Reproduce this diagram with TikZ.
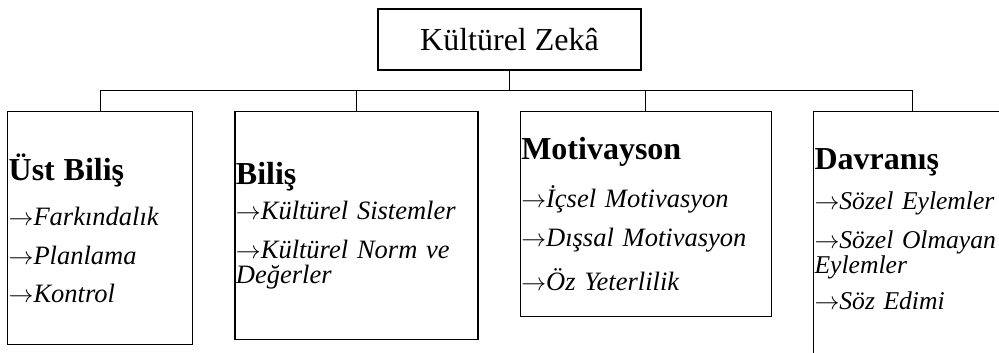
\documentclass[tikz,border=0pt]{standalone}
\usepackage{fontspec}
\setmainfont{Liberation Serif}
\usetikzlibrary{positioning}
\newcommand{\headtxt}[1]{{\upshape\bfseries\fontsize{32}{24}\selectfont #1}}
\newcommand{\arr}{$\rightarrow$}

\begin{document}
\begin{tikzpicture}[
    x=1pt, y=1pt,
    topbox/.style={rectangle, draw=black, line width=1.3pt, minimum width=263pt, minimum height=61pt, font=\fontsize{32}{36}\selectfont},
    catbox/.style={rectangle, draw=black, line width=1.3pt, anchor=north west, inner xsep=1pt, inner ysep=0pt, align=left, font=\fontsize{26.5}{24}\selectfont\itshape},
    conn/.style={line width=0.8pt}
]
\useasboundingbox (0,0) rectangle (999,-353);
\clip (0,0) rectangle (999,-353);

% Top
\node[topbox] (zeka) at (509.5,-39.5) {Kültürel Zekâ};

% Dimensions
\node[catbox, text width=183pt, minimum height=233pt] (ustbilis) at (7,-111) {\headtxt{Üst Biliş}\\[19pt] \arr Farkındalık\\[15pt] \arr Planlama\\[14pt] \arr Kontrol};
\node[catbox, text width=241pt, minimum height=228pt, right=41pt of ustbilis.north east, anchor=north west] (bilis) {\headtxt{Biliş}\\[9pt] \arr Kültürel Sistemler\\[15pt] \arr Kültürel Norm ve\\[1pt] Değerler};
\node[catbox, text width=249pt, minimum height=205pt, right=41pt of bilis.north east, anchor=north west] (motivasyon) {\headtxt{Motivayson}\\[18pt] \arr İçsel Motivasyon\\[14pt] \arr Dışsal Motivasyon\\[15pt] \arr Öz Yeterlilik};
\node[catbox, text width=196pt, minimum height=252pt, font=\fontsize{25.6}{24}\selectfont\itshape, right=41pt of motivasyon.north east, anchor=north west] (davranis) {\headtxt{Davranış}\\[14pt] \arr Sözel Eylemler\\[15pt] \arr Sözel Olmayan\\[1pt] Eylemler\\[12pt] \arr Söz Edimi\rule[-17pt]{0pt}{17pt}};

% Connectors
\coordinate (bus) at (0,-90);
\draw[conn] (zeka.south) -- (zeka.south |- bus);
\draw[conn] (ustbilis.north) |- (davranis.north |- bus) -- (davranis.north);
\draw[conn] (bilis.north) -- (bilis.north |- bus);
\draw[conn] (motivasyon.north) -- (motivasyon.north |- bus);

\end{tikzpicture}
\end{document}
